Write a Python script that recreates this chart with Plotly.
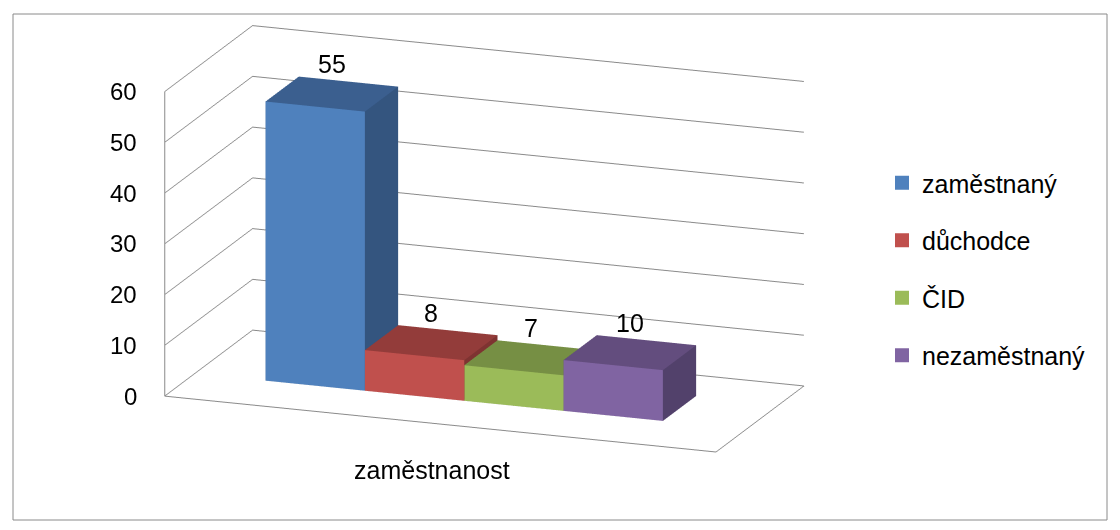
import numpy as np
import plotly.graph_objects as go

categories = ["zaměstnaný", "důchodce", "ČID", "nezaměstnaný"]
values = [55, 8, 7, 10]
axis_title = "zaměstnanost"
front_colors = ["#4F81BD", "#C0504D", "#9BBB59", "#8064A2"]
top_colors = ["#3B5F8F", "#933C3A", "#768F44", "#634D7E"]
side_colors = ["#34557F", "#7E3331", "#657A3A", "#52416B"]
z_ticks = [0, 10, 20, 30, 40, 50, 60]
z_max = 60

FONT = "Arial, 'Liberation Sans', sans-serif"
GRID = "#8a8a8a"
W, H = 1112, 522          # figure size (page has an 8px body margin)
OFF = 8

# ---- view settings (orthographic approximation of the Excel 3-D view) ----
AZIM, ELEV = np.radians(20.17), np.radians(16.01)   # rotation / tilt
SCALE = 316.8                                        # px per scene unit
X0, Y0 = 484.3, 238.8                                # screen pos of scene centre
ASP_X, ASP_Y = 1.854, 0.805                          # aspect (z = 1)
X_RANGE = [-0.712, 4.838]
Y_RANGE = [0, 1]
BAR_Y = [0.343, 0.721]

k = SCALE / (H / 2.0)
Rv = np.array([np.cos(AZIM), np.sin(AZIM), 0])
Uv = np.array([-np.sin(AZIM) * np.sin(ELEV), np.cos(AZIM) * np.sin(ELEV), np.cos(ELEV)])
VCX, VCY = OFF + W / 2, OFF + H / 2
c = k * (((VCX - X0) / SCALE) * Rv + ((Y0 - VCY) / SCALE) * Uv)
back = np.array([np.sin(AZIM) * np.cos(ELEV), -np.cos(AZIM) * np.cos(ELEV), np.sin(ELEV)])
eye = c + 6.0 * back

fig = go.Figure()


def box(i, h):
    x0, x1 = i, i + 1
    y0, y1 = BAR_Y
    xs = [x0, x1, x1, x0, x0, x1, x1, x0]
    ys = [y0, y0, y1, y1, y0, y0, y1, y1]
    zs = [0, 0, 0, 0, h, h, h, h]
    tris = [(0, 1, 5), (0, 5, 4), (1, 2, 6), (1, 6, 5), (2, 3, 7), (2, 7, 6),
            (3, 0, 4), (3, 4, 7), (4, 5, 6), (4, 6, 7), (0, 1, 2), (0, 2, 3)]
    return xs, ys, zs, tris


for i, (cat, v) in enumerate(zip(categories, values)):
    xs, ys, zs, tris = box(i, v)
    fc = [front_colors[i]] * 2 + [side_colors[i]] * 6 + [top_colors[i]] * 2 + [side_colors[i]] * 2
    fig.add_trace(go.Mesh3d(
        x=xs, y=ys, z=zs,
        i=[t[0] for t in tris], j=[t[1] for t in tris], k=[t[2] for t in tris],
        facecolor=fc, flatshading=True,
        lighting=dict(ambient=1, diffuse=0, specular=0, roughness=1, fresnel=0),
        hoverinfo="skip", showlegend=False, legendgroup=cat,
    ))
    fig.add_trace(go.Scatter3d(
        x=[None], y=[None], z=[None], mode="markers",
        marker=dict(symbol="square", size=14, color=front_colors[i]),
        name=cat, legendgroup=cat, showlegend=True, hoverinfo="skip",
    ))

# vertical value axis line on the front-left edge of the wall
ax_x = X_RANGE[0] + 1e-4 * (X_RANGE[1] - X_RANGE[0])
ax_y = Y_RANGE[0] + 1e-4 * (Y_RANGE[1] - Y_RANGE[0])
fig.add_trace(go.Scatter3d(
    x=[ax_x] * 2, y=[ax_y] * 2, z=[0, z_max], mode="lines",
    line=dict(color=GRID, width=2), showlegend=False, hoverinfo="skip",
))

annotations = []
for i, v in enumerate(values):
    annotations.append(dict(x=i + 0.5, y=sum(BAR_Y) / 2, z=v, text=str(v), showarrow=False,
                            yshift=30, font=dict(size=25, color="#000000", family=FONT)))
for t in z_ticks:
    annotations.append(dict(x=ax_x, y=ax_y, z=t, text=str(t), showarrow=False,
                            xanchor="right", xshift=-26,
                            font=dict(size=24, color="#000000", family=FONT)))

noaxis = dict(showgrid=False, showticklabels=False, showbackground=False,
              zeroline=False, showspikes=False, title=dict(text=""),
              showline=True, linecolor=GRID, linewidth=2, ticks="")

fig.update_layout(
    width=W, height=H,
    margin=dict(l=0, r=0, t=0, b=0),
    paper_bgcolor="white",
    font=dict(family=FONT, color="#000000"),
    showlegend=True,
    legend=dict(x=(922 - 40 - OFF) / W, y=1 - 152 / H, yanchor="top", xanchor="left",
                font=dict(size=25, family=FONT), tracegroupgap=22, itemsizing="trace"),
    scene=dict(
        domain=dict(x=[0, 1], y=[0, 1]),
        xaxis=dict(range=X_RANGE, **noaxis),
        yaxis=dict(range=Y_RANGE, **noaxis),
        zaxis=dict(range=[0, z_max], tickvals=z_ticks, showgrid=True,
                   gridcolor=GRID, gridwidth=2, showbackground=False,
                   zeroline=False, showspikes=False, showline=False,
                   ticks="", showticklabels=False, title=dict(text="")),
        aspectmode="manual",
        aspectratio=dict(x=ASP_X * k, y=ASP_Y * k, z=k),
        camera=dict(eye=dict(x=eye[0], y=eye[1], z=eye[2]),
                    center=dict(x=c[0], y=c[1], z=c[2]),
                    up=dict(x=0, y=0, z=1),
                    projection=dict(type="orthographic")),
        annotations=annotations,
    ),
    annotations=[
        dict(x=(432 - OFF) / W, y=1 - (470 - OFF) / H, xref="paper", yref="paper",
             text=axis_title, showarrow=False, xanchor="center", yanchor="middle",
             font=dict(size=25, family=FONT, color="#000000")),
    ],
    shapes=[dict(type="rect", xref="paper", yref="paper",
                 x0=5 / W, x1=1099 / W, y0=1 - 512 / H, y1=1 - 6 / H,
                 line=dict(color=GRID, width=1))],
    hovermode=False,
)

fig.write_html("out.html", config={"displayModeBar": False})
